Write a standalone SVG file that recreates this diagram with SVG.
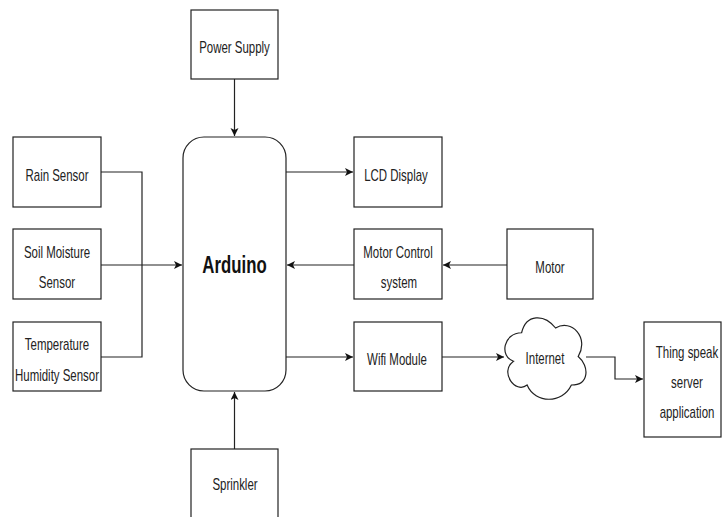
<svg xmlns="http://www.w3.org/2000/svg" width="723" height="517" viewBox="0 0 723 517">
<style>
.box{fill:#fff;stroke:#222;stroke-width:1.2}
.t{font-family:"Liberation Sans",Arial,sans-serif;font-size:16px;fill:#222;text-anchor:middle}
.b{font-family:"Liberation Sans",Arial,sans-serif;font-size:24px;font-weight:bold;fill:#111;text-anchor:middle}
.c{fill:none;stroke:#222;stroke-width:1.2}
.a{marker-end:url(#arr)}
</style>
<defs>
<marker id="arr" markerUnits="userSpaceOnUse" markerWidth="10" markerHeight="10" refX="8" refY="4" orient="auto">
<path d="M0,0 L8,4 L0,8 L2,4 Z" fill="#111"/>
</marker>
</defs>
<rect width="723" height="517" fill="#fff"/>
<g id="connectors">
<path class="c a" d="M234.5,79 V136"/>
<path class="c" d="M101,172 H142 V357 H101"/>
<path class="c a" d="M101,265 H182"/>
<path class="c a" d="M286,172 H353"/>
<path class="c a" d="M354,265 H287"/>
<path class="c a" d="M507,265 H443"/>
<path class="c a" d="M286,357 H353"/>
<path class="c a" d="M442,357 H504"/>
<path class="c a" d="M586,357 H615 V379 H643"/>
<path class="c a" d="M234.5,449 V392"/>
</g>
<g id="power-supply">
<rect class="box" x="191" y="10" width="87" height="69"/>
<text class="t" transform="translate(234.5,53) scale(0.716,1)">Power Supply</text>
</g>
<g id="arduino">
<rect class="box" x="183" y="137" width="103" height="254" rx="21" ry="21"/>
<text class="b" transform="translate(234.5,273) scale(0.7,1)">Arduino</text>
</g>
<g id="rain-sensor">
<rect class="box" x="13" y="137" width="88" height="70"/>
<text class="t" transform="translate(57,181) scale(0.716,1)">Rain Sensor</text>
</g>
<g id="soil-moisture-sensor">
<rect class="box" x="13" y="229" width="88" height="70"/>
<text class="t" transform="translate(57,258) scale(0.716,1)">Soil Moisture</text>
<text class="t" transform="translate(57,288) scale(0.716,1)">Sensor</text>
</g>
<g id="temperature-humidity-sensor">
<rect class="box" x="13" y="322" width="88" height="69"/>
<text class="t" transform="translate(57,350) scale(0.716,1)">Temperature</text>
<text class="t" transform="translate(57,381) scale(0.716,1)">Humidity Sensor</text>
</g>
<g id="lcd-display">
<rect class="box" x="354" y="137" width="88" height="70"/>
<text class="t" transform="translate(396,181) scale(0.716,1)">LCD Display</text>
</g>
<g id="motor-control-system">
<rect class="box" x="354" y="229" width="88" height="70"/>
<text class="t" transform="translate(398,258) scale(0.716,1)">Motor Control</text>
<text class="t" transform="translate(399,288) scale(0.716,1)">system</text>
</g>
<g id="motor">
<rect class="box" x="507" y="229" width="86" height="70"/>
<text class="t" transform="translate(550,273) scale(0.716,1)">Motor</text>
</g>
<g id="wifi-module">
<rect class="box" x="354" y="322" width="88" height="69"/>
<text class="t" transform="translate(397,365) scale(0.716,1)">Wifi Module</text>
</g>
<g id="internet">
<path class="box" d="M521.6,332.75 C503.5,332.75 499,356.5 513.5,361.25 C499,371.7 515.3,394.5 527.1,385 C535.2,404 562.4,404 571.4,385 C589.5,385 589.5,366 578.2,356.5 C589.5,337.5 571.4,318.5 555.6,328 C544.25,313.75 526.2,313.75 521.6,332.75 Z"/>
<text class="t" transform="translate(545,364) scale(0.716,1)">Internet</text>
</g>
<g id="thing-speak-server">
<rect class="box" x="644" y="322" width="77" height="115"/>
<text class="t" transform="translate(687,358) scale(0.716,1)">Thing speak</text>
<text class="t" transform="translate(687,388) scale(0.716,1)">server</text>
<text class="t" transform="translate(687,418) scale(0.716,1)">application</text>
</g>
<g id="sprinkler">
<rect class="box" x="191" y="449" width="87" height="80"/>
<text class="t" transform="translate(235,490) scale(0.716,1)">Sprinkler</text>
</g>
</svg>
